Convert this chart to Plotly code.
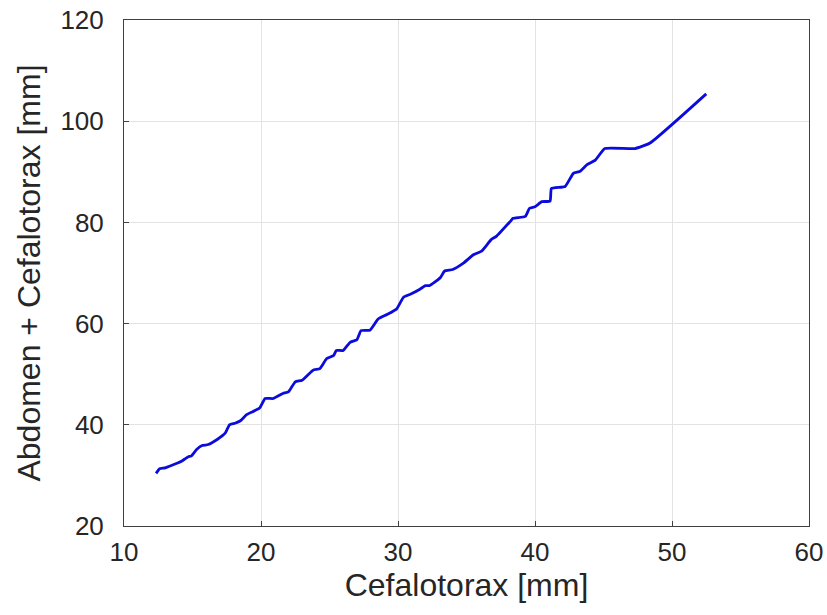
import plotly.graph_objects as go

cefalotorax = [12.34, 12.6, 13.0, 13.96, 14.2, 14.7, 14.9, 15.3, 15.7, 16.15, 16.8, 17.4, 17.7, 18.1, 18.5,
               18.95, 19.4, 19.9, 20.3, 20.9, 21.6, 22.0, 22.5, 23.0, 23.8, 24.3, 24.8, 25.3, 25.5, 26.0,
               26.5, 27.0, 27.3, 27.95, 28.55, 29.2, 29.9, 30.4, 30.9, 31.6, 32.0, 32.3, 33.1, 33.4, 34.0,
               34.8, 35.5, 36.1, 36.8, 37.2, 38.2, 38.4, 39.3, 39.6, 40.0, 40.5, 41.1, 41.2, 42.2, 42.8,
               43.3, 43.8, 44.4, 45.1, 47.3, 48.4, 52.5]
total = [30.4, 31.3, 31.5, 32.5, 32.8, 33.7, 33.8, 35.1, 35.9, 36.1, 37.1, 38.4, 40.0, 40.3, 40.8,
         42.0, 42.6, 43.3, 45.2, 45.2, 46.2, 46.5, 48.5, 48.8, 50.8, 51.1, 53.1, 53.7, 54.7, 54.7,
         56.3, 56.8, 58.6, 58.7, 60.9, 61.8, 62.9, 65.2, 65.8, 66.8, 67.5, 67.5, 69.1, 70.4, 70.7,
         72.0, 73.6, 74.3, 76.6, 77.3, 80.2, 80.8, 81.2, 82.8, 83.1, 84.1, 84.2, 86.7, 87.1, 89.7,
         90.1, 91.4, 92.3, 94.6, 94.6, 95.7, 105.4]

x_ticks = [10, 20, 30, 40, 50, 60]
y_ticks = [20, 40, 60, 80, 100, 120]

fig = go.Figure()
fig.add_trace(go.Scatter(x=cefalotorax, y=total, mode="lines", hoverinfo="skip",
                         line=dict(color="#0b0bdc", width=2.8, shape="spline", smoothing=0.4)))

font_family = "Liberation Sans, Arial, sans-serif"
axis_common = dict(showgrid=True, gridcolor="#e3e3e3", gridwidth=1, zeroline=False,
                   showline=True, linecolor="#404040", linewidth=1, mirror=True,
                   ticks="inside", ticklen=5, tickcolor="#404040", automargin=False,
                   tickfont=dict(family=font_family, size=26, color="#262626"))

fig.update_layout(
    width=827, height=615,
    margin=dict(l=124, r=18, t=20, b=89),
    paper_bgcolor="white", plot_bgcolor="white",
    showlegend=False,
    xaxis=dict(range=[10, 60], tickvals=x_ticks, ticktext=[str(v) for v in x_ticks],
               ticklabelstandoff=3,
               title=dict(text="Cefalotorax [mm]", font=dict(family=font_family, size=32, color="#262626"),
                          standoff=4),
               **axis_common),
    yaxis=dict(range=[20, 120], tickvals=y_ticks, ticktext=[str(v) for v in y_ticks],
               ticklabelstandoff=14,
               title=dict(text="Abdomen + Cefalotorax [mm]", font=dict(family=font_family, size=32, color="#262626"),
                          standoff=10),
               **axis_common),
)

# remove the page's default 8px body margin so the figure fills the window exactly
fig.write_html("out.html", config={"displayModeBar": False},
               post_script="document.body.style.margin='0';document.body.style.overflow='hidden';")
